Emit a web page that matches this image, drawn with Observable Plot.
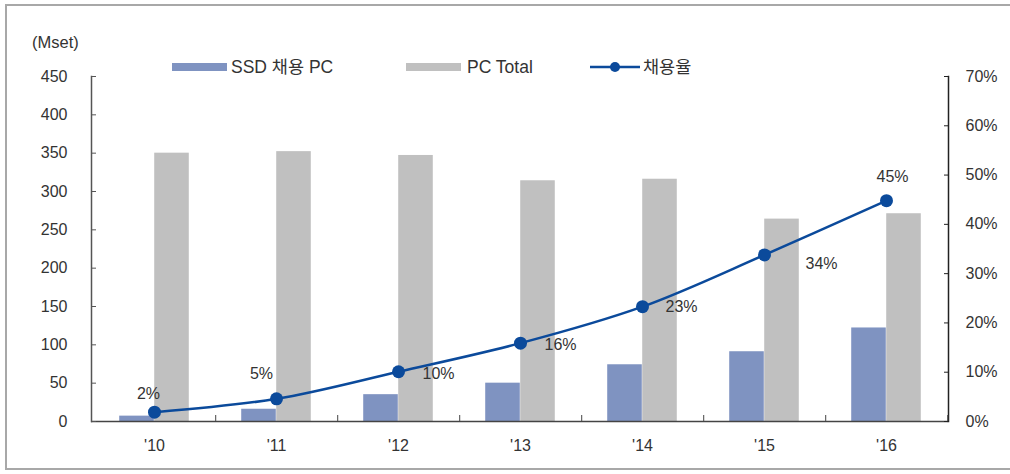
<!DOCTYPE html>
<html><head><meta charset="utf-8">
<script src="https://cdn.jsdelivr.net/npm/d3@7"></script>
<script src="https://cdn.jsdelivr.net/npm/@observablehq/plot@0.6"></script>
<style>
body{margin:0;background:#fff;}
#wrap{position:relative;width:1010px;height:474px;overflow:hidden;font-family:"Liberation Sans",Arial,"Noto Sans CJK KR",sans-serif;color:#333;background:#fff;}
#frame{position:absolute;left:5px;top:4px;width:1030px;height:466px;border:2px solid #a8a8a8;box-sizing:border-box;}
#chart{position:absolute;left:0;top:0;}
.t{position:absolute;font-size:16px;line-height:18px;white-space:nowrap;color:#333;}
.lg{font-size:17.5px;line-height:20px;}
.sw{position:absolute;height:8px;}
</style></head>
<body>
<div id="wrap">
  <div id="frame"></div>
  <div id="chart"></div>
  <div class="t" style="left:32px;top:33px;font-size:16.5px;">(Mset)</div>
  <div class="sw" style="left:172px;top:63px;width:55px;background:#7f93c1;"></div>
  <div class="t lg" style="left:231px;top:57px;">SSD 채용 PC</div>
  <div class="sw" style="left:406px;top:63px;width:55px;background:#c0c0c0;"></div>
  <div class="t lg" style="left:467px;top:57px;">PC Total</div>
  <svg style="position:absolute;left:590px;top:60px;" width="50" height="14"><line x1="0" y1="7" x2="50" y2="7" stroke="#0b4a9b" stroke-width="2.5"/><circle cx="25" cy="7" r="5" fill="#0b4a9b"/></svg>
  <div class="t lg" style="left:643px;top:57px;">채용율</div>
</div>
<script>
// ---- data ----
const years = ["'10", "'11", "'12", "'13", "'14", "'15", "'16"];
const ssdPC = [7, 16, 35, 50, 74, 91, 122];          // SSD 채용 PC (Mset)
const pcTotal = [350, 352, 347, 314, 316, 264, 271]; // PC Total (Mset)
const adoptionRate = [1.9, 4.6, 10.1, 15.9, 23.3, 33.8, 44.8]; // 채용율 (%)
const rateLabels = ["2%", "5%", "10%", "16%", "23%", "34%", "45%"];
const leftTicks = [0, 50, 100, 150, 200, 250, 300, 350, 400, 450];
const rightTicks = [0, 10, 20, 30, 40, 50, 60, 70];

// ---- style / layout ----
const W = 1010, H = 474, mL = 91, mR = 62, mT = 76, mB = 53;
const labelOffsets = [[-6, -18], [-15, -25], [40, 2.5], [40, 2], [39, 0], [57, 9], [6, -24]];
const barW = 35;
const k = 450 / 70; // right axis (%) mapped onto left axis units
const bw = (W - mL - mR) / years.length;

const rows = years.map((y, i) => ({year: y, ssd: ssdPC[i], total: pcTotal[i], rate: adoptionRate[i] * k, label: rateLabels[i], i}));

const lineColor = "#0b4a9b";

const marks = [
  Plot.barY(rows, {x: "year", y: "total", fill: "#c0c0c0", insetLeft: bw / 2, insetRight: bw / 2 - barW}),
  Plot.barY(rows, {x: "year", y: "ssd", fill: "#7f93c1", insetLeft: bw / 2 - barW, insetRight: bw / 2}),
  Plot.ruleY([0], {stroke: "#444", strokeWidth: 1.5}),
  Plot.frame({anchor: "left", stroke: "#555", strokeWidth: 1.5}),
  Plot.frame({anchor: "right", stroke: "#222", strokeWidth: 1.5}),
  Plot.axisY(leftTicks, {anchor: "left", label: null, tickSize: -5, tickPadding: 29, fontSize: 16, fill: "#333", stroke: "#555"}),
  Plot.axisY(rightTicks.map(t => t * k), {anchor: "right", label: null, tickSize: -5, tickPadding: 22, fontSize: 16, fill: "#333", stroke: "#222", tickFormat: d => Math.round(d / k) + "%"}),
  Plot.axisX({label: null, tickSize: -6, dx: bw / 2, tickFormat: () => "", stroke: "#444"}),
  Plot.axisX({label: null, tickSize: 0, tickPadding: 18, fontSize: 16, fill: "#333"}),
  Plot.line(rows, {x: "year", y: "rate", stroke: lineColor, strokeWidth: 2.5, curve: "catmull-rom"}),
  Plot.dot(rows, {x: "year", y: "rate", r: 6.5, fill: lineColor}),
  ...rows.map((r, i) => Plot.text([r], {x: "year", y: "rate", text: "label", dx: labelOffsets[i][0], dy: labelOffsets[i][1], fontSize: 16, fill: "#333"}))
];

const chart = Plot.plot({
  width: W, height: H,
  marginLeft: mL, marginRight: mR, marginTop: mT, marginBottom: mB,
  style: {fontFamily: "'Liberation Sans', Arial, sans-serif", background: "transparent", color: "#333", fontSize: "16px"},
  x: {type: "band", domain: years, padding: 0, axis: null, label: null},
  y: {domain: [0, 450], axis: null, label: null},
  marks
});
document.getElementById("chart").appendChild(chart);
</script>
</body></html>
